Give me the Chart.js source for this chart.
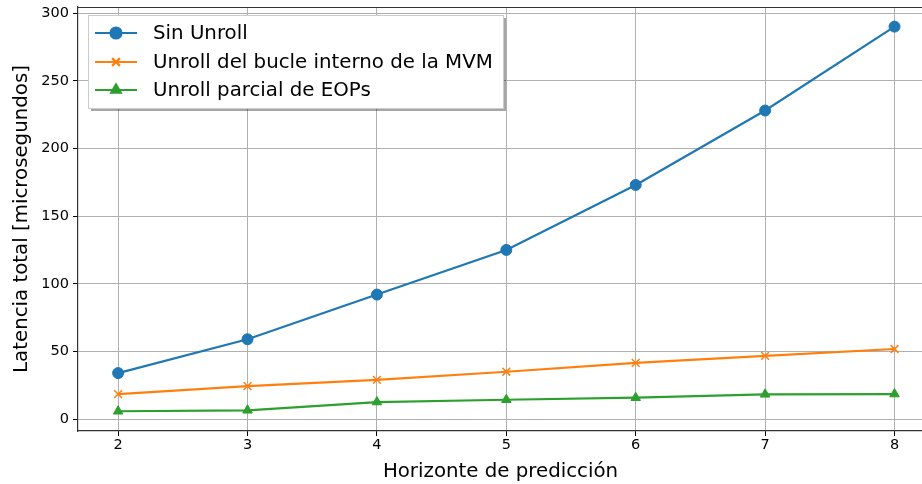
<!DOCTYPE html>
<html>
<head>
<meta charset="utf-8">
<script src="https://cdn.jsdelivr.net/npm/chart.js@4/dist/chart.umd.min.js"></script>
<style>
  html, body { margin: 0; padding: 0; background: #fff; overflow: hidden; }
  #wrap { width: 922px; height: 484px; overflow: hidden; }
</style>
</head>
<body>
<div id="wrap"><canvas id="chart" width="930" height="484"></canvas></div>
<script>
var horizontes = [2, 3, 4, 5, 6, 7, 8];
var sinUnroll = [34, 59, 92, 125, 173, 228, 290];
var unrollMVM = [18.5, 24.3, 29, 35, 41.5, 46.7, 51.8];
var unrollEOPs = [5.8, 6.5, 12.6, 14.3, 15.8, 18.3, 18.5];
var xTicks = [2, 3, 4, 5, 6, 7, 8];
var yTicks = [0, 50, 100, 150, 200, 250, 300];

var nombres = ["Sin Unroll", "Unroll del bucle interno de la MVM", "Unroll parcial de EOPs"];
var colores = ["#1f77b4", "#ff7f0e", "#2ca02c"];
var marcadores = ["circle", "crossRot", "triangle"];

function puntos(vals) {
  return horizontes.map(function (h, i) { return { x: h, y: vals[i] }; });
}

var series = [sinUnroll, unrollMVM, unrollEOPs];
var datasets = series.map(function (vals, i) {
  return {
    label: nombres[i],
    data: puntos(vals),
    borderColor: colores[i],
    backgroundColor: colores[i],
    borderWidth: 2.2,
    pointStyle: marcadores[i],
    pointRadius: 5.5,
    pointBorderWidth: i == 1 ? 1.5 : 1,
    tension: 0
  };
});

// marco (spine superior) y leyenda estilo matplotlib
var marcoLeyenda = {
  id: "marcoLeyenda",
  afterDatasetsDraw: function (chart) {
    var ctx = chart.ctx, a = chart.chartArea;
    ctx.save();
    ctx.strokeStyle = "#333";
    ctx.lineWidth = 1.2;
    ctx.beginPath();
    ctx.moveTo(a.left, a.top + 0.5);
    ctx.lineTo(a.right + 2, a.top + 0.5);
    ctx.stroke();

    // caja de leyenda
    var bx = 88, by = 15, bw = 415, bh = 93;
    ctx.fillStyle = "rgba(0,0,0,0.35)";
    ctx.fillRect(bx + 3, by + 3, bw, bh);
    ctx.fillStyle = "#fff";
    ctx.fillRect(bx, by, bw, bh);
    ctx.strokeStyle = "#cccccc";
    ctx.lineWidth = 1;
    ctx.strokeRect(bx + 0.5, by + 0.5, bw, bh);

    ctx.font = "19.8px 'DejaVu Sans'";
    ctx.textBaseline = "middle";
    var filas = [33, 62, 90];
    for (var i = 0; i < nombres.length; i++) {
      var y = filas[i];
      ctx.strokeStyle = colores[i];
      ctx.fillStyle = colores[i];
      ctx.lineWidth = 2.2;
      ctx.beginPath();
      ctx.moveTo(95, y);
      ctx.lineTo(137, y);
      ctx.stroke();
      Chart.helpers.drawPoint(ctx, {
        pointStyle: marcadores[i], radius: 5.5, borderWidth: i == 1 ? 1.5 : 1
      }, 116, y);
      ctx.fillStyle = "#000";
      ctx.fillText(nombres[i], 153, y + 1);
    }
    ctx.restore();
  }
};

var ctx = document.getElementById("chart").getContext("2d");
var chart = new Chart(ctx, {
  type: "line",
  data: { datasets: datasets },
  options: {
    responsive: false,
    animation: false,
    layout: { padding: { top: 1, right: 0, left: 0, bottom: 0 } },
    plugins: { legend: { display: false }, tooltip: { enabled: false } },
    scales: {
      x: {
        type: "linear",
        min: 1.69,
        max: 8.22,
        afterBuildTicks: function (axis) {
          axis.ticks = xTicks.map(function (v) { return { value: v }; });
        },
        afterFit: function (axis) {
          axis.height = 53;
          axis.paddingRight = 0;
          axis.paddingLeft = 0;
        },
        grid: { color: "#b0b0b0", lineWidth: 1, tickColor: "#000", tickLength: 5 },
        border: { color: "#333", width: 1.2 },
        ticks: { color: "#000", font: { family: "DejaVu Sans", size: 14.5 }, padding: 1, maxRotation: 0 },
        title: {
          display: true, text: "Horizonte de predicción", color: "#000",
          font: { family: "DejaVu Sans", size: 19.8 }, padding: { top: 0, bottom: 0 }
        }
      },
      y: {
        min: -8.8,
        max: 304.5,
        afterBuildTicks: function (axis) {
          axis.ticks = yTicks.map(function (v) { return { value: v }; });
        },
        afterFit: function (axis) {
          axis.width = 78;
          axis.paddingTop = 0;
          axis.paddingBottom = 0;
        },
        grid: { color: "#b0b0b0", lineWidth: 1, tickColor: "#000", tickLength: 5 },
        border: { color: "#333", width: 1.2 },
        ticks: { color: "#000", font: { family: "DejaVu Sans", size: 14.5 }, padding: 4 },
        title: {
          display: true, text: "Latencia total [microsegundos]", color: "#000",
          font: { family: "DejaVu Sans", size: 19.8 }, padding: { top: 10, bottom: 4 }
        }
      }
    }
  },
  plugins: [marcoLeyenda]
});
</script>
</body>
</html>
